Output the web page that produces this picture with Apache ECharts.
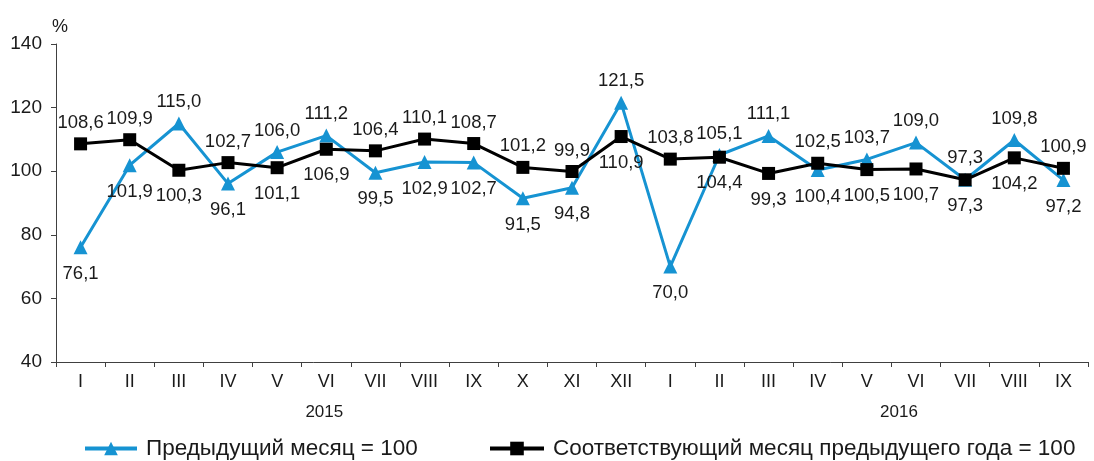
<!DOCTYPE html>
<html>
<head>
<meta charset="utf-8">
<script src="https://cdn.jsdelivr.net/npm/echarts@6/dist/echarts.min.js"></script>
<style>
  html, body { margin: 0; padding: 0; background: #fff; }
  #main { width: 1094px; height: 461px; }
</style>
</head>
<body>
<div id="main"></div>
<script>
  // месяцы по оси x
  var months = ['I', 'II', 'III', 'IV', 'V', 'VI', 'VII', 'VIII', 'IX', 'X', 'XI', 'XII',
      'I', 'II', 'III', 'IV', 'V', 'VI', 'VII', 'VIII', 'IX'];
  // подписи годов под месяцами
  var years = ['', '', '', '', '', '2015', '', '', '', '', '', '',
      '', '', '', '', '', '2016', '', '', ''];
  var yTicks = [40, 60, 80, 100, 120, 140];

  var prevMonth = [76.1, 101.9, 115.0, 96.1, 106.0, 111.2, 99.5, 102.9, 102.7, 91.5, 94.8, 121.5,
      70.0, 105.1, 111.1, 100.4, 103.7, 109.0, 97.3, 109.8, 97.2];
  var prevYear = [108.6, 109.9, 100.3, 102.7, 101.1, 106.9, 106.4, 110.1, 108.7, 101.2, 99.9, 110.9,
      103.8, 104.4, 99.3, 102.5, 100.5, 100.7, 97.3, 104.2, 100.9];

  var nameA = 'Предыдущий месяц = 100';
  var nameB = 'Соответствующий месяц предыдущего года = 100';

  var font = "'Liberation Sans', Arial, sans-serif";
  var blue = '#1693D2';
  var ink = '#1a1a1a';

  function fmt(v) {
      return v.toFixed(1).replace('.', ',');
  }

  // подпись сверху у той линии, что выше, снизу у той, что ниже
  function withLabels(values, other, isTop) {
      return values.map(function (v, i) {
          var up = isTop ? v >= other[i] : v > other[i];
          return {
              value: v,
              label: {
                  position: up ? 'top' : 'bottom',
                  distance: up ? 5 : 10
              }
          };
      });
  }

  var myChart = echarts.init(document.getElementById('main'));

  var legendText = { fontSize: 22.5, color: ink, fontFamily: font, padding: [0, 0, 0, 4] };

  var option = {
      backgroundColor: '#fff',
      animation: false,
      textStyle: { fontFamily: font },
      grid: { left: 56, right: 6, top: 44, bottom: 99, containLabel: false },
      legend: [{
          left: 78,
          top: 432,
          data: [nameA],
          itemWidth: 52,
          itemHeight: 17,
          lineStyle: { width: 4 },
          textStyle: legendText
      }, {
          left: 483,
          top: 432,
          data: [nameB],
          itemWidth: 54,
          itemHeight: 17,
          lineStyle: { width: 4 },
          textStyle: legendText
      }],
      xAxis: [{
          type: 'category',
          data: months,
          boundaryGap: true,
          axisLine: { lineStyle: { color: '#404040', width: 1 } },
          axisTick: { show: true, interval: 0, length: 5, lineStyle: { color: '#404040' } },
          axisLabel: { interval: 0, margin: 11, fontSize: 18, color: ink, fontFamily: font }
      }, {
          type: 'category',
          data: years,
          position: 'bottom',
          offset: 31,
          boundaryGap: true,
          axisLine: { show: false },
          axisTick: { show: false },
          axisLabel: {
              interval: 0,
              margin: 11,
              formatter: function (value) {
                  if (value === '2016') return '{b|' + value + '}';
                  return value ? '{a|' + value + '}' : '';
              },
              rich: {
                  a: { fontSize: 17, color: ink, fontFamily: font, padding: [0, 4, 0, 0] },
                  b: { fontSize: 17, color: ink, fontFamily: font, padding: [0, 34, 0, 0] }
              }
          }
      }],
      yAxis: {
          type: 'value',
          min: yTicks[0],
          max: yTicks[yTicks.length - 1],
          interval: 20,
          name: '%',
          nameLocation: 'end',
          nameGap: 8,
          nameTextStyle: { fontSize: 18, color: ink, fontFamily: font, align: 'left', padding: [0, 0, 0, -4] },
          axisLine: { show: true, lineStyle: { color: '#404040', width: 1 } },
          axisTick: { show: true, length: 5, lineStyle: { color: '#404040' } },
          splitLine: { show: false },
          axisLabel: { fontSize: 19, color: ink, margin: 14, fontFamily: font }
      },
      series: [{
          name: nameA,
          type: 'line',
          data: withLabels(prevMonth, prevYear, true),
          symbol: 'triangle',
          symbolSize: 14,
          itemStyle: { color: blue },
          lineStyle: { color: blue, width: 3 },
          label: {
              show: true,
              fontSize: 18.5,
              color: ink,
              fontFamily: font,
              formatter: function (p) { return fmt(p.value); }
          }
      }, {
          name: nameB,
          type: 'line',
          data: withLabels(prevYear, prevMonth, false),
          symbol: 'rect',
          symbolSize: 13,
          itemStyle: { color: '#000' },
          lineStyle: { color: '#000', width: 3 },
          label: {
              show: true,
              fontSize: 18.5,
              color: ink,
              fontFamily: font,
              formatter: function (p) { return fmt(p.value); }
          }
      }]
  };

  myChart.setOption(option);
</script>
</body>
</html>
